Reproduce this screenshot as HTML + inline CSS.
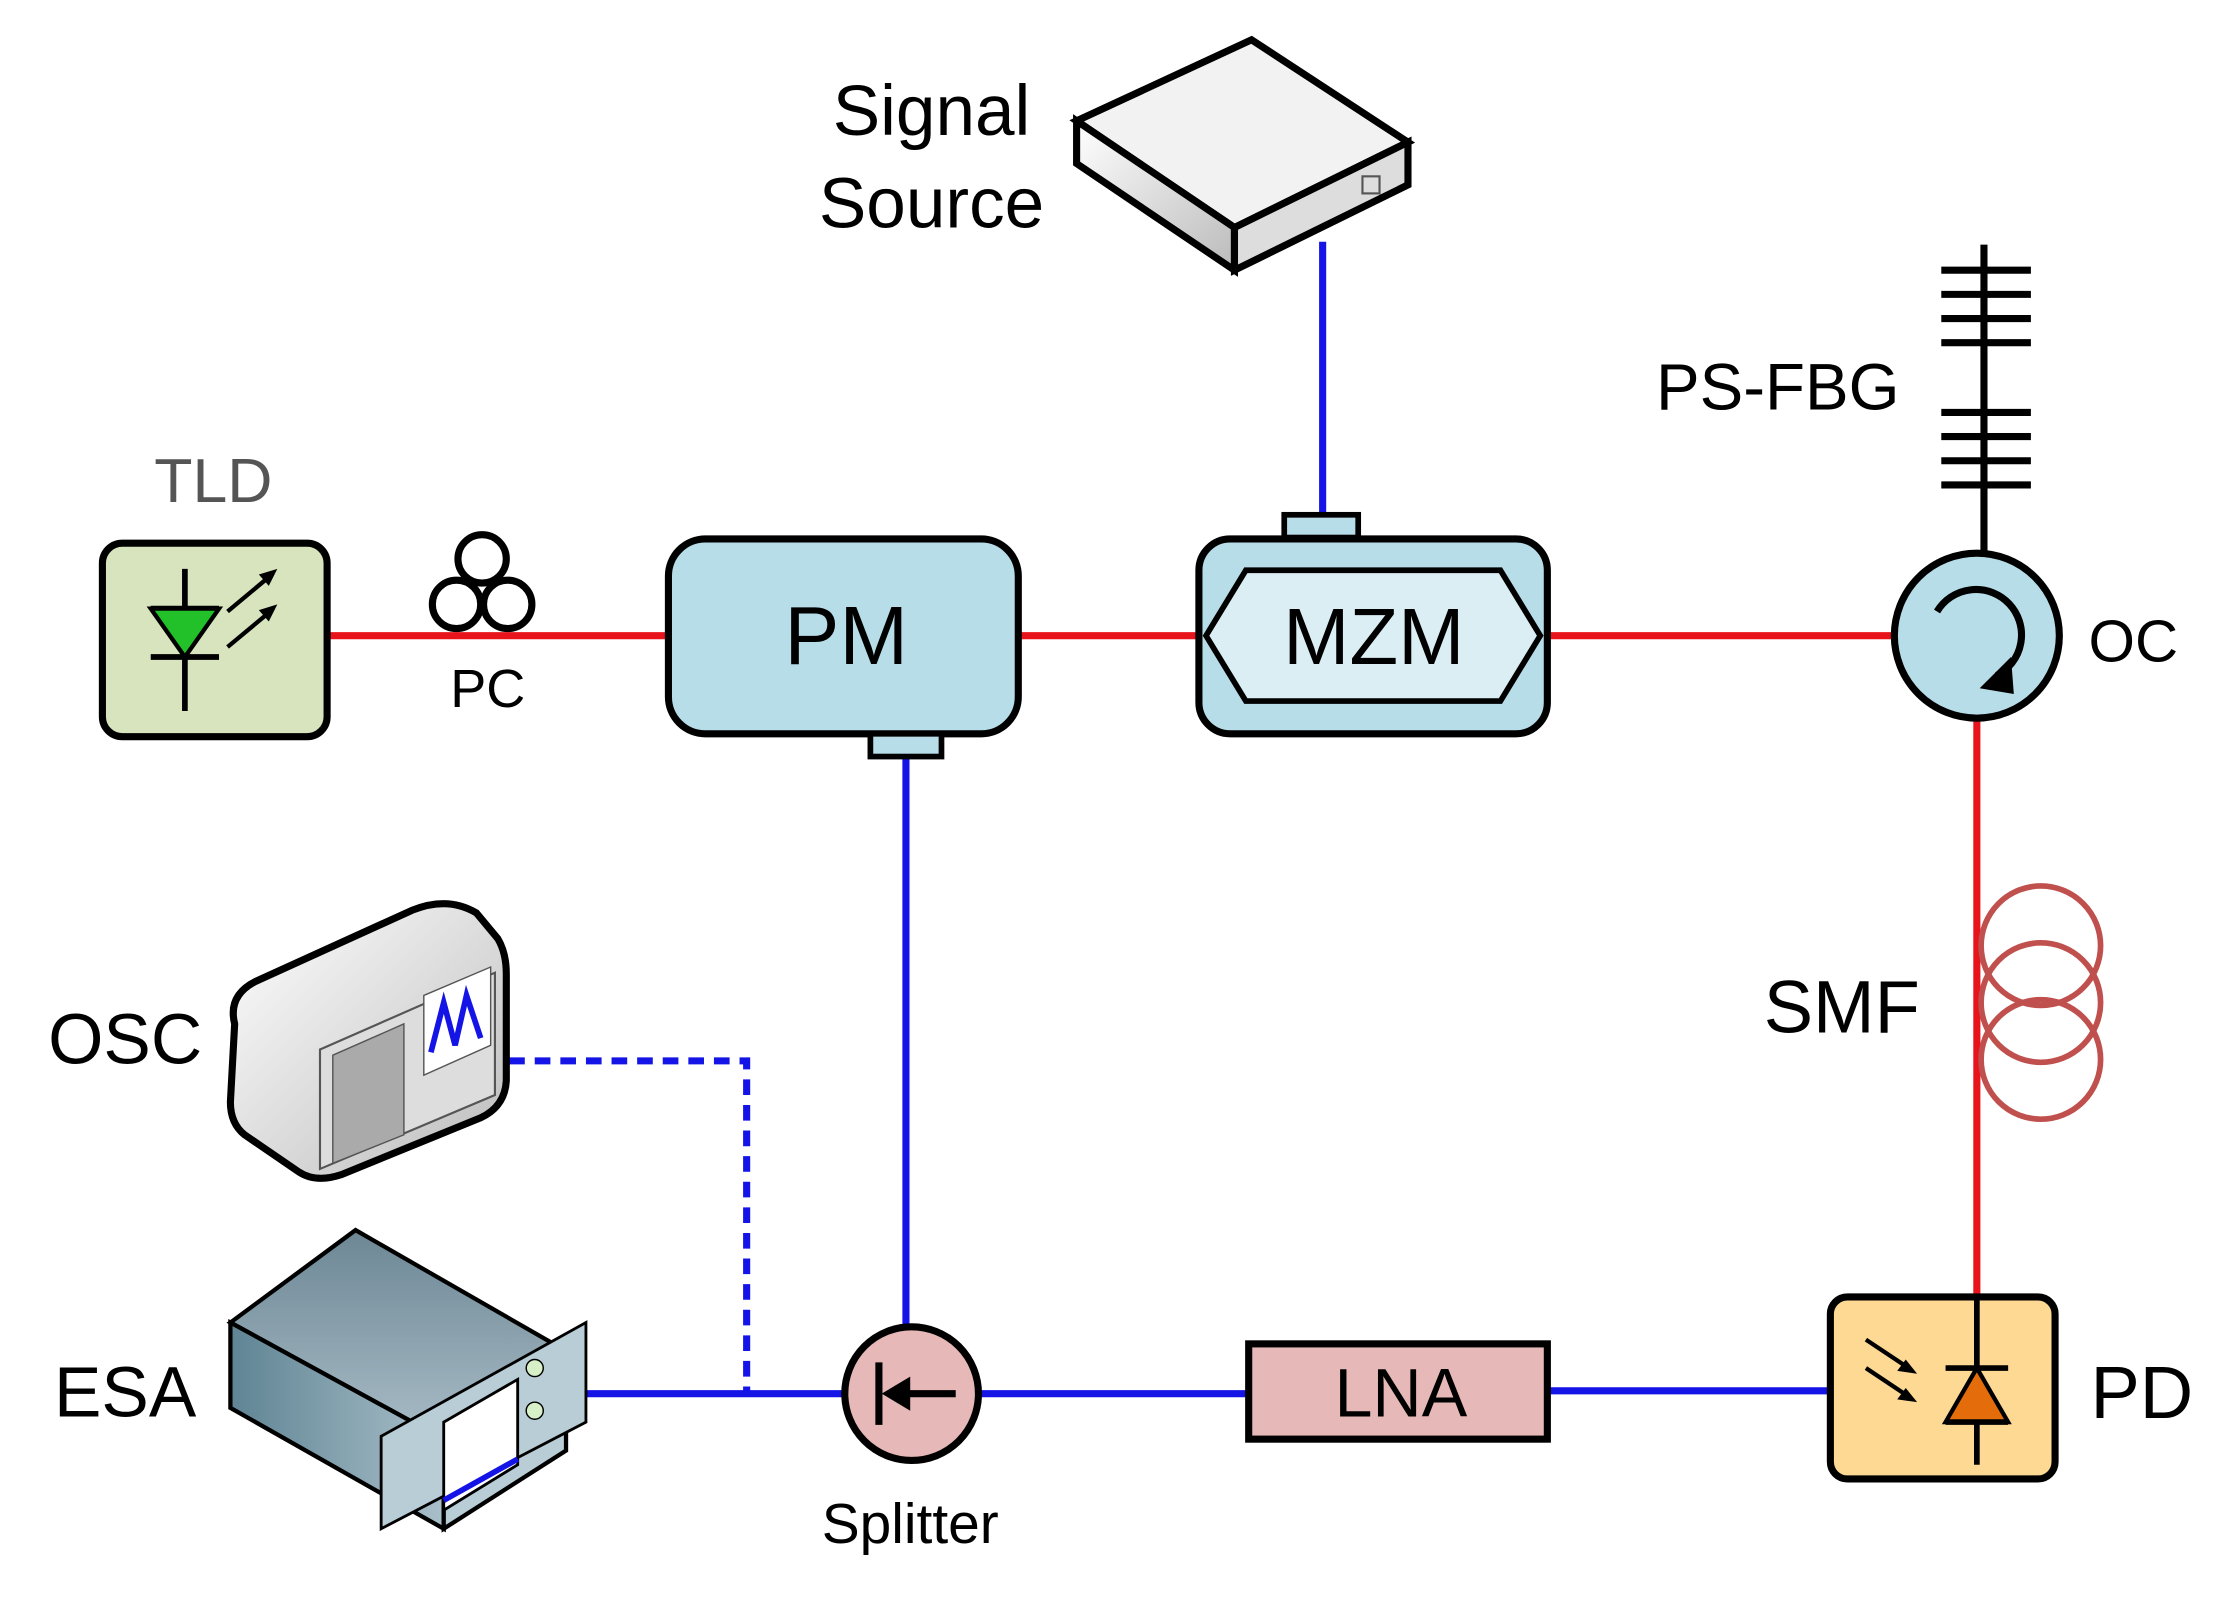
<!DOCTYPE html>
<html><head><meta charset="utf-8"><style>html,body{margin:0;padding:0;background:#fff}svg{display:block}</style></head>
<body>
<svg width="2230" height="1597" viewBox="0 0 1568 1123" preserveAspectRatio="none" xmlns="http://www.w3.org/2000/svg" font-family="Liberation Sans, sans-serif">
<defs>
<linearGradient id="g1" x1="0" y1="0" x2="1" y2="1"><stop offset="0" stop-color="#fff"/><stop offset="1" stop-color="#bbb"/></linearGradient>
<linearGradient id="g2" x1="0" y1="0" x2="1" y2="0"><stop offset="0" stop-color="#5f8494"/><stop offset="1" stop-color="#a9bfc9"/></linearGradient>
<linearGradient id="g3" x1="0" y1="0" x2="0" y2="1"><stop offset="0" stop-color="#6d8795"/><stop offset="1" stop-color="#a8bcc6"/></linearGradient>
</defs>
<g stroke-width="5" fill="none">
<line x1="230" y1="447" x2="470" y2="447" stroke="#e8141c"/>
<line x1="716" y1="447" x2="843" y2="447" stroke="#e8141c"/>
<line x1="1088" y1="447" x2="1333" y2="447" stroke="#e8141c"/>
<line x1="1390" y1="505" x2="1390" y2="912" stroke="#e8141c"/>
<line x1="930" y1="170" x2="930" y2="362" stroke="#1414e6"/>
<line x1="637" y1="532" x2="637" y2="933" stroke="#1414e6"/>
<line x1="412" y1="980" x2="594" y2="980" stroke="#1414e6"/>
<line x1="688" y1="980" x2="878" y2="980" stroke="#1414e6"/>
<line x1="1088" y1="978" x2="1287" y2="978" stroke="#1414e6"/>
<polyline points="358,746 525,746 525,978" stroke="#1414e6" stroke-width="5" stroke-dasharray="11,7"/>
</g>
<!-- TLD -->
<rect x="72" y="382" width="158" height="136" rx="14" fill="#d7e4bd" stroke="#000" stroke-width="5"/>
<line x1="130" y1="400" x2="130" y2="500" stroke="#000" stroke-width="4"/>
<line x1="106" y1="428" x2="154" y2="428" stroke="#000" stroke-width="4"/>
<polygon points="106,428 154,428 130,462" fill="#22c12a" stroke="#000" stroke-width="3"/>
<line x1="106" y1="462" x2="154" y2="462" stroke="#000" stroke-width="4"/>
<line x1="160" y1="430" x2="190" y2="405" stroke="#000" stroke-width="3"/><polygon points="195,400 182,404 189,412" fill="#000"/>
<line x1="160" y1="455" x2="190" y2="430" stroke="#000" stroke-width="3"/><polygon points="195,425 182,429 189,437" fill="#000"/>
<text x="150" y="353" font-size="44" fill="#555" text-anchor="middle">TLD</text>
<!-- PC -->
<g fill="#fff" stroke="#000" stroke-width="5"><circle cx="339" cy="393" r="17"/><circle cx="321" cy="425" r="17"/><circle cx="357" cy="425" r="17"/></g>
<text x="343" y="497" font-size="38" text-anchor="middle">PC</text>
<!-- PM -->
<rect x="470" y="379" width="246" height="137" rx="26" fill="#b7dde8" stroke="#000" stroke-width="5"/>
<rect x="612" y="516" width="50" height="16" fill="#b7dde8" stroke="#000" stroke-width="4"/>
<text x="595" y="467" font-size="58" text-anchor="middle">PM</text>
<!-- MZM -->
<rect x="903" y="362" width="52" height="16" fill="#b7dde8" stroke="#000" stroke-width="4"/>
<rect x="843" y="379" width="245" height="137" rx="22" fill="#b7dde8" stroke="#000" stroke-width="5"/>
<polygon points="848,447 876,401 1055,401 1083,447 1055,493 876,493" fill="#dbeef4" stroke="#000" stroke-width="4"/>
<text x="966" y="467" font-size="56" text-anchor="middle">MZM</text>
<!-- Signal source -->
<polygon points="757,85 880,28 990,100 868,160" fill="#f2f2f2" stroke="#000" stroke-width="5"/>
<polygon points="757,85 868,160 868,190 757,115" fill="url(#g1)" stroke="#000" stroke-width="5"/>
<polygon points="868,160 990,100 990,130 868,190" fill="#ddd" stroke="#000" stroke-width="5"/>
<rect x="958" y="124" width="12" height="12" fill="none" stroke="#555" stroke-width="1.5"/>
<text x="655" y="95" font-size="50" text-anchor="middle">Signal</text>
<text x="655" y="160" font-size="50" text-anchor="middle">Source</text>
<!-- PS-FBG -->
<line x1="1395" y1="172" x2="1395" y2="390" stroke="#000" stroke-width="5"/>
<g stroke="#000" stroke-width="5"><line x1="1365" y1="190" x2="1428" y2="190"/><line x1="1365" y1="207" x2="1428" y2="207"/><line x1="1365" y1="224" x2="1428" y2="224"/><line x1="1365" y1="241" x2="1428" y2="241"/><line x1="1365" y1="290" x2="1428" y2="290"/><line x1="1365" y1="307" x2="1428" y2="307"/><line x1="1365" y1="324" x2="1428" y2="324"/><line x1="1365" y1="341" x2="1428" y2="341"/></g>
<text x="1250" y="288" font-size="46" text-anchor="middle">PS-FBG</text>
<!-- OC -->
<circle cx="1390" cy="447" r="58" fill="#b7dde8" stroke="#000" stroke-width="5"/>
<path d="M1362,430 A32,32 0 1 1 1404,475" fill="none" stroke="#000" stroke-width="5"/>
<polygon points="1392,484 1414,462 1416,488" fill="#000"/>
<text x="1500" y="465" font-size="42" text-anchor="middle">OC</text>
<!-- SMF -->
<g fill="none" stroke="#c0504d" stroke-width="4"><circle cx="1435" cy="665" r="42"/><circle cx="1435" cy="705" r="42"/><circle cx="1435" cy="745" r="42"/></g>
<text x="1295" y="726" font-size="52" text-anchor="middle">SMF</text>
<!-- PD -->
<rect x="1287" y="912" width="158" height="128" rx="12" fill="#fdd994" stroke="#000" stroke-width="5"/>
<line x1="1390" y1="912" x2="1390" y2="1030" stroke="#000" stroke-width="4"/>
<line x1="1368" y1="962" x2="1412" y2="962" stroke="#000" stroke-width="4"/>
<polygon points="1368,1000 1412,1000 1390,962" fill="#e46c0a" stroke="#000" stroke-width="3"/>
<line x1="1368" y1="1000" x2="1412" y2="1000" stroke="#000" stroke-width="4"/>
<line x1="1312" y1="942" x2="1342" y2="962" stroke="#000" stroke-width="3"/><polygon points="1348,966 1334,964 1340,956" fill="#000"/>
<line x1="1312" y1="962" x2="1342" y2="982" stroke="#000" stroke-width="3"/><polygon points="1348,986 1334,984 1340,976" fill="#000"/>
<text x="1506" y="997" font-size="52" text-anchor="middle">PD</text>
<!-- LNA -->
<rect x="878" y="945" width="210" height="67" fill="#e6b8b7" stroke="#000" stroke-width="5"/>
<text x="985" y="996" font-size="48" text-anchor="middle">LNA</text>
<!-- Splitter -->
<circle cx="641" cy="980" r="47" fill="#e6b8b7" stroke="#000" stroke-width="5"/>
<line x1="618" y1="958" x2="618" y2="1002" stroke="#000" stroke-width="5"/>
<line x1="625" y1="980" x2="672" y2="980" stroke="#000" stroke-width="5"/>
<polygon points="620,980 640,968 640,992" fill="#000"/>
<text x="640" y="1085" font-size="40" text-anchor="middle">Splitter</text>
<!-- OSC -->
<path d="M165,720 Q160,700 180,690 L290,640 Q315,630 335,642 L350,660 Q356,670 356,685 L356,760 Q355,778 338,786 L240,826 Q222,832 210,824 L172,798 Q162,790 162,775 Z" fill="url(#g1)" stroke="#000" stroke-width="5"/>
<polygon points="225,738 348,684 348,770 225,822" fill="#ddd" stroke="#555" stroke-width="1.5"/>
<polygon points="234,742 284,720 284,798 234,818" fill="#aaa" stroke="#555"/>
<polygon points="298,700 345,680 345,735 298,756" fill="#fff" stroke="#555"/>
<path d="M303,740 L312,705 L320,735 L328,700 L338,730" fill="none" stroke="#1414e6" stroke-width="4"/>
<text x="88" y="748" font-size="50" text-anchor="middle">OSC</text>
<!-- ESA -->
<polygon points="162,930 250,865 398,950 312,1012" fill="url(#g3)" stroke="#000" stroke-width="3"/>
<polygon points="162,930 312,1012 312,1075 162,990" fill="url(#g2)" stroke="#000" stroke-width="3"/>
<polygon points="312,1012 398,950 398,1020 312,1075" fill="#b9cdd6" stroke="#000" stroke-width="3"/>
<polygon points="268,1010 412,930 412,1000 268,1075" fill="#b9cdd6" stroke="#000" stroke-width="2"/>
<polygon points="312,1000 364,970 364,1030 312,1062" fill="#fff" stroke="#000" stroke-width="2"/>
<line x1="312" y1="1055" x2="364" y2="1026" stroke="#1414e6" stroke-width="4"/>
<circle cx="376" cy="962" r="6" fill="#d8f0c8" stroke="#000"/><circle cx="376" cy="992" r="6" fill="#d8f0c8" stroke="#000"/>
<text x="88" y="996" font-size="50" text-anchor="middle">ESA</text>
</svg>
</body></html>
